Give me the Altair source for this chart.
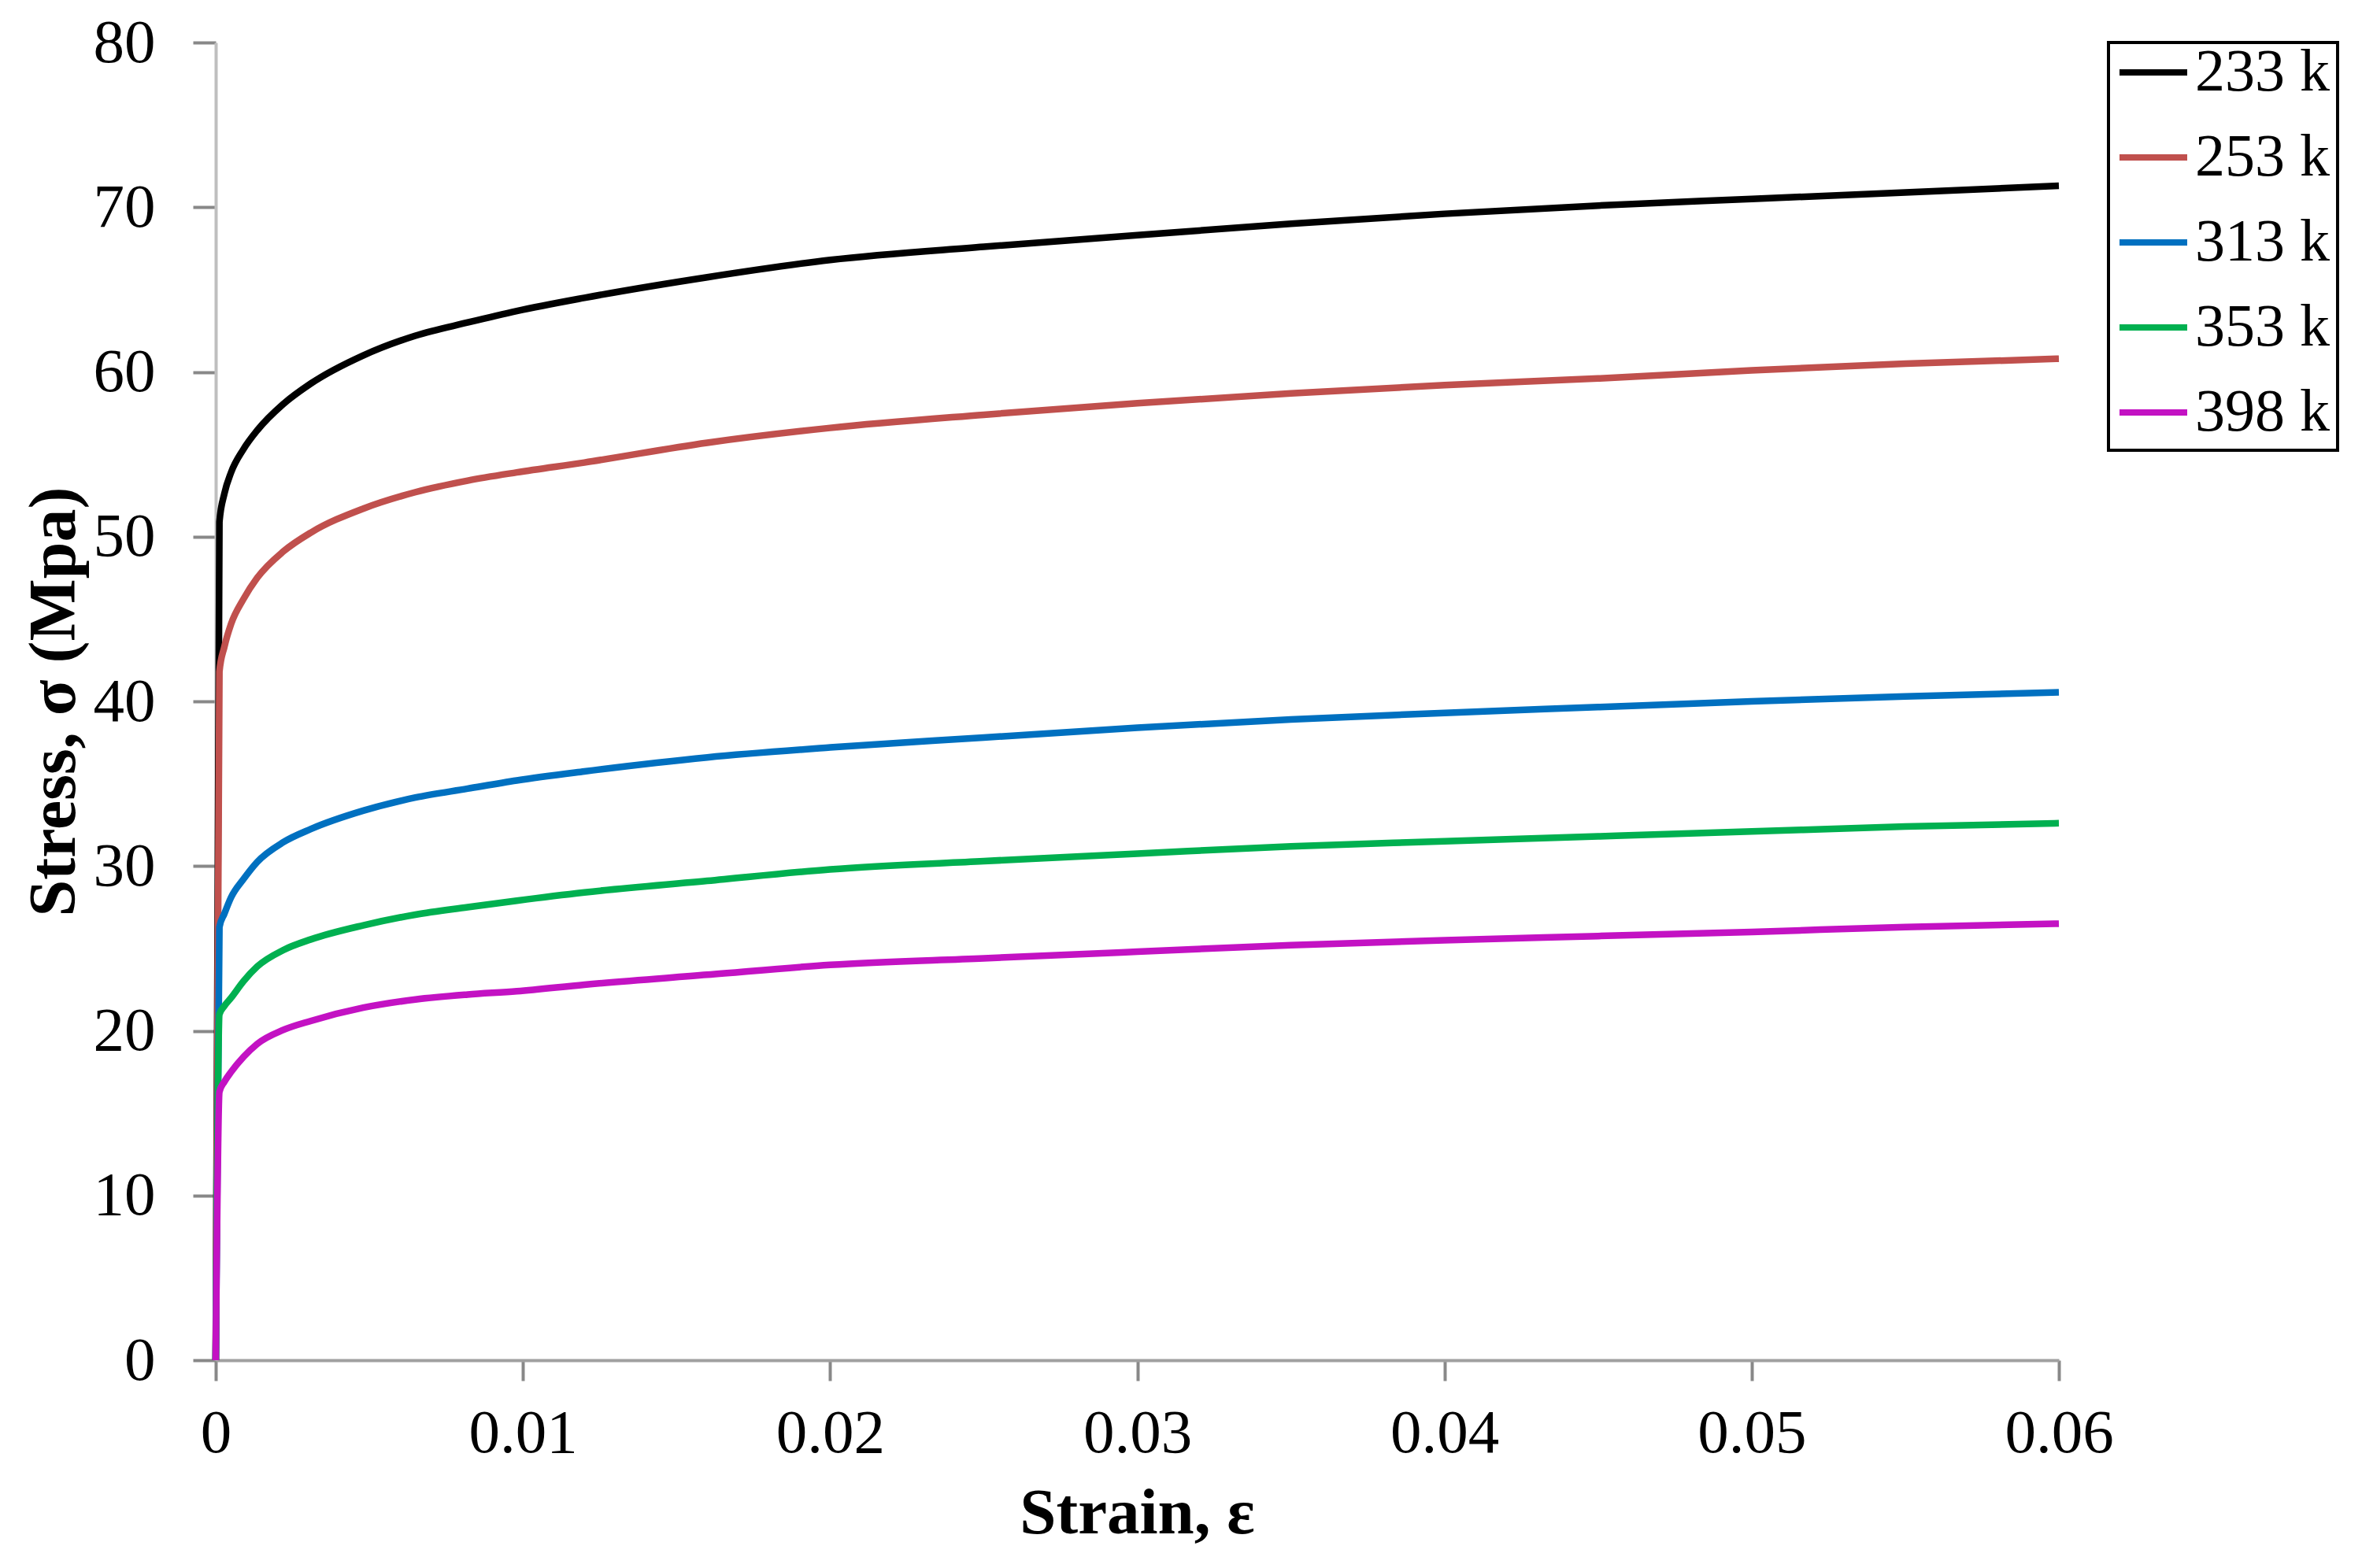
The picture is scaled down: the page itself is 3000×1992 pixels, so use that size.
import altair as alt
import pandas as pd

strain = [0, 0.00012, 0.00028, 0.0005, 0.0009, 0.00135, 0.0022, 0.0031, 0.0048,
          0.0065, 0.0082, 0.0098, 0.012, 0.016, 0.02, 0.025, 0.03, 0.035, 0.04,
          0.045, 0.05, 0.055, 0.06]

s233 = [0, 50.9, 52.6, 53.9, 55.3, 56.45, 58.05, 59.3, 61.0, 62.2, 63.0, 63.7,
        64.5, 65.75, 66.8, 67.6, 68.3, 69.0, 69.6, 70.1, 70.5, 70.9, 71.3]
s253 = [0, 41.8, 43.3, 44.7, 46.2, 47.5, 49.1, 50.25, 51.7, 52.7, 53.4, 53.9,
        54.5, 55.7, 56.6, 57.4, 58.1, 58.7, 59.2, 59.6, 60.1, 60.5, 60.8]
s313 = [0, 26.3, 27.1, 28.1, 29.2, 30.25, 31.45, 32.25, 33.36, 34.16, 34.7, 35.2,
        35.75, 36.6, 37.2, 37.8, 38.4, 38.9, 39.3, 39.65, 40.0, 40.3, 40.55]
s353 = [0, 21.0, 21.5, 22.0, 23.0, 23.9, 24.9, 25.55, 26.4, 27.05, 27.5, 27.9,
        28.4, 29.1, 29.8, 30.3, 30.75, 31.2, 31.5, 31.8, 32.1, 32.4, 32.6]
s398 = [0, 16.3, 16.9, 17.5, 18.4, 19.2, 20.05, 20.6, 21.4, 21.9, 22.2, 22.4,
        22.8, 23.4, 24.0, 24.4, 24.8, 25.2, 25.5, 25.75, 26.0, 26.3, 26.5]

series_names = ["233 k", "253 k", "313 k", "353 k", "398 k"]
series_colors = ["#000000", "#C0504D", "#0070C0", "#00B050", "#C312C3"]
x_ticks = [0, 0.01, 0.02, 0.03, 0.04, 0.05, 0.06]
y_ticks = [0, 10, 20, 30, 40, 50, 60, 70, 80]

rows = []
for name, vals in zip(series_names, [s233, s253, s313, s353, s398]):
    for i, (e, s) in enumerate(zip(strain, vals)):
        rows.append({"series": name, "strain": e, "stress": s, "order": i})
df = pd.DataFrame(rows)

FONT = "Liberation Serif"

chart = alt.Chart(df).mark_line(strokeWidth=8.5, interpolate="monotone").encode(
    x=alt.X("strain:Q",
            scale=alt.Scale(domain=[0, 0.06], nice=False, zero=True),
            axis=alt.Axis(values=x_ticks,
                          labelExpr="datum.value == 0 ? '0' : format(datum.value, '.2f')",
                          labelFlush=False,
                          title="Strain, ε", grid=False,
                          domainColor="#A0A0A0", domainWidth=4,
                          tickColor="#888888", tickWidth=4, tickSize=26,
                          labelFont=FONT, labelFontSize=79, labelColor="#000000",
                          labelPadding=28,
                          titleFont=FONT, titleFontSize=83, titleFontWeight="bold",
                          titleColor="#000000", titleBaseline="alphabetic",
                          titleX=1170, titleY=219, titleAlign="center")),
    y=alt.Y("stress:Q",
            scale=alt.Scale(domain=[0, 80], nice=False),
            axis=alt.Axis(values=y_ticks, title="Stress, σ (Mpa)", grid=False,
                          domainColor="#BFBFBF", domainWidth=4,
                          tickColor="#888888", tickWidth=4, tickSize=29,
                          labelFont=FONT, labelFontSize=79, labelColor="#000000",
                          labelPadding=48,
                          titleFont=FONT, titleFontSize=84, titleFontWeight="bold",
                          titleColor="#000000", titleBaseline="alphabetic",
                          titleAngle=270, titleX=-180, titleY=837,
                          titleAlign="center")),
    color=alt.Color("series:N",
                    scale=alt.Scale(domain=series_names, range=series_colors),
                    legend=alt.Legend(title=None, orient="none",
                                      legendX=2404, legendY=0,
                                      symbolType="stroke", symbolSize=7396,
                                      symbolStrokeWidth=8,
                                      labelFont=FONT, labelFontSize=76,
                                      labelColor="#000000", labelOffset=6,
                                      labelLimit=1000,
                                      padding=10, rowPadding=32, clipHeight=56,
                                      strokeColor="#000000", fillColor="#FFFFFF")),
    order="order:Q",
).properties(
    width=2341, height=1674,
    autosize=alt.AutoSizeParams(type="none"),
    padding={"left": 266, "top": 46, "right": 370, "bottom": 250},
).configure_view(stroke=None).configure_legend(strokeWidth=4)

chart.save("out.html", embed_options={"renderer": "svg", "actions": False})
